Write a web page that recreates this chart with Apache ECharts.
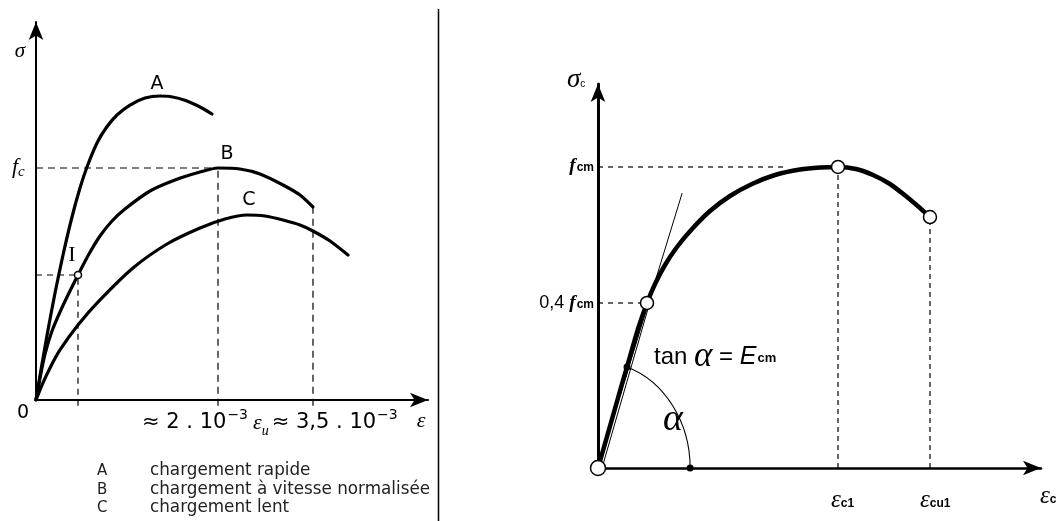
<!DOCTYPE html>
<html>
<head>
<meta charset="utf-8">
<script src="https://cdn.jsdelivr.net/npm/echarts@6/dist/echarts.min.js"></script>
<style>
  html, body { margin: 0; padding: 0; background: #fff; }
  #chart { width: 1056px; height: 521px; }
</style>
</head>
<body>
<div id="chart"></div>
<script>
// ---- Left diagram: σ–ε curves for three loading rates (schematic units 0–100) ----
const curveA = [[0,0],[1.53,9.52],[3.06,18.52],[4.85,28.31],[6.89,38.36],[9.18,48.41],[11.22,56.08],[13.01,61.64],[15.56,67.99],[17.86,71.96],[20.66,75.40],[23.98,78.04],[27.81,79.89],[31.63,80.42],[34.18,80.29],[38.01,79.29],[41.84,77.51],[44.90,75.66]];
const curveB = [[0,0],[1.02,5.82],[2.30,12.17],[4.08,18.25],[6.12,23.28],[8.16,27.78],[10.71,33.07],[13.52,38.62],[16.33,43.39],[19.39,47.35],[22.70,50.53],[29.08,55.29],[35.46,58.20],[41.84,60.32],[46.43,61.38],[52.04,61.11],[57.14,59.79],[63.01,56.88],[67.35,54.23],[70.66,51.06]];
const curveC = [[0,0],[1.53,3.97],[3.57,8.47],[6.12,13.23],[10.71,19.84],[16.33,26.46],[24.74,34.92],[33.42,41.27],[41.84,45.50],[48.21,47.88],[53.83,48.94],[58.42,48.68],[63.01,47.62],[67.35,46.30],[70.66,44.71],[75.0,42.06],[79.59,38.36]];
const pointI = curveB[6];      // point I on curve B
const peakB = curveB[14];      // (≈2·10⁻³ , fc)
const endB = curveB[19];       // εu
const curveNames = ['A', 'B', 'C'];
const legendTexts = ['chargement rapide', 'chargement à vitesse normalisée', 'chargement lent'];

// ---- Right diagram: σc–εc relation (schematic units 0–100) ----
const curveEC = [[0,0],[1.81,7.29],[3.61,14.58],[5.42,21.88],[6.55,26.30],[9.03,36.20],[11.06,42.97],[12.87,47.92],[15.12,52.86],[17.83,57.55],[21.22,62.24],[25.28,66.93],[29.80,70.83],[34.76,73.96],[39.95,76.30],[45.60,77.73],[50.11,78.26],[54.18,78.39],[58.24,77.86],[62.08,76.30],[65.91,73.96],[69.75,70.57],[72.69,67.71],[74.94,65.36]];
const pointSecant = curveEC[6];   // 0,4 fcm
const arcStart = curveEC[4];      // where the angle arc meets the initial branch
const peakEC = curveEC[17];       // (εc1 , fcm)
const endEC = curveEC[23];        // εcu1
const tangentEnd = [19.0, 71.6];
const arcEnd = [20.8, 0];
const fcmDashEnd = 41.8;

const SANS = '"Liberation Sans", Arial, sans-serif';
const WIDE = '"DejaVu Sans", Verdana, sans-serif';
const SERIF = '"Liberation Serif", "DejaVu Serif", serif';
const INK = '#000';

function guide(points, xi, dash, width) {
  return {
    type: 'line', xAxisIndex: xi, yAxisIndex: xi, data: points,
    showSymbol: false, silent: true, clip: false, z: 1,
    lineStyle: { color: INK, width: width, type: dash }
  };
}
function curve(points, xi, width) {
  return {
    type: 'line', xAxisIndex: xi, yAxisIndex: xi, data: points,
    smooth: 0.25, showSymbol: false, silent: true, z: 3,
    lineStyle: { color: INK, width: width, cap: 'round', join: 'round' }
  };
}
function dots(points, xi, size, fill) {
  return {
    type: 'scatter', xAxisIndex: xi, yAxisIndex: xi, data: points, symbolSize: size,
    z: 6, silent: true, clip: false,
    itemStyle: { color: fill, borderColor: INK, borderWidth: fill === INK ? 0 : 1.5, opacity: 1 }
  };
}

const chart = echarts.init(document.getElementById('chart'), null, { renderer: 'canvas' });

const axisCommon = (w, size) => ({
  type: 'value', min: 0, max: 100,
  axisLine: { show: true, onZero: false, symbol: ['none', 'arrow'], symbolSize: size, lineStyle: { color: INK, width: w } },
  axisTick: { show: false }, axisLabel: { show: false }, splitLine: { show: false }
});

const option = {
  backgroundColor: '#fff',
  animation: false,
  grid: [
    { left: 36, top: 22, width: 392, height: 378 },
    { left: 598, top: 84, width: 443, height: 384 }
  ],
  xAxis: [ Object.assign(axisCommon(2, [11, 18]), { gridIndex: 0 }), Object.assign(axisCommon(2.5, [11, 18]), { gridIndex: 1 }) ],
  yAxis: [ Object.assign(axisCommon(2, [11, 18]), { gridIndex: 0 }), Object.assign(axisCommon(3, [11, 18]), { gridIndex: 1 }) ],
  series: [
    // left guides
    guide([[0, peakB[1]], peakB], 0, [7, 5], 1.2),
    guide([[peakB[0], -1.5], peakB], 0, [7, 5], 1.2),
    guide([[endB[0], -1.5], endB], 0, [7, 5], 1.2),
    guide([[0, pointI[1]], pointI], 0, [6, 5], 1.2),
    guide([[pointI[0], -1.5], pointI], 0, [6, 5], 1.2),
    // left curves
    curve(curveA, 0, 3.2),
    curve(curveB, 0, 3.2),
    curve(curveC, 0, 3.2),
    dots([pointI], 0, 7, '#fff'),
    // right guides
    guide([[0, peakEC[1]], [fcmDashEnd, peakEC[1]]], 1, [5, 5], 1.2),
    guide([[peakEC[0], 0], peakEC], 1, [5, 4], 1.2),
    guide([[endEC[0], 0], endEC], 1, [5, 4], 1.2),
    guide([[0, pointSecant[1]], pointSecant], 1, [5, 5], 1.2),
    // tangent and secant
    guide([[0, 0], tangentEnd], 1, 'solid', 1),
    guide([[0.9, 0], [pointSecant[0] + 0.6, pointSecant[1]]], 1, 'solid', 1),
    // right curve
    curve(curveEC, 1, 4.5),
    // angle arc
    {
      type: 'custom', xAxisIndex: 1, yAxisIndex: 1, silent: true, z: 4, clip: false,
      data: [[arcStart[0], arcStart[1], arcEnd[0]]],
      renderItem: function (params, api) {
        const c = api.coord([0, 0]);
        const p1 = api.coord([api.value(0), api.value(1)]);
        const p2 = api.coord([api.value(2), 0]);
        const rx = p2[0] - c[0];
        const dx = p1[0] - c[0], dy = c[1] - p1[1];
        const ry = dy / Math.sqrt(1 - (dx / rx) * (dx / rx));
        return {
          type: 'path',
          shape: { pathData: 'M' + p1[0] + ' ' + p1[1] + ' A' + rx + ' ' + ry + ' 0 0 1 ' + p2[0] + ' ' + p2[1] },
          style: { fill: 'none', stroke: INK, lineWidth: 1.1 }
        };
      }
    },
    dots([arcStart, arcEnd], 1, 7, INK),
    dots([pointSecant, peakEC, endEC], 1, 13, '#fff'),
    dots([[0, 0]], 1, 15, '#fff')
  ],
  graphic: [
    // divider between the two diagrams
    { type: 'line', shape: { x1: 438.5, y1: 9, x2: 438.5, y2: 521 }, style: { stroke: INK, lineWidth: 1.5 }, silent: true },

    // left diagram texts
    { type: 'text', x: 20, y: 51, style: { text: 'σ', font: 'italic 21px ' + SERIF, fill: INK, align: 'center', verticalAlign: 'middle' } },
    { type: 'text', x: 12, y: 167, style: { text: '{f|f}{s|c}', fill: INK, verticalAlign: 'middle',
      rich: { f: { font: 'italic 22px ' + SERIF, lineHeight: 26, verticalAlign: 'middle' }, s: { font: 'italic 15px ' + SERIF, lineHeight: 26, verticalAlign: 'bottom' } } } },
    { type: 'text', x: 23, y: 413, style: { text: '0', font: '19px ' + WIDE, fill: INK, align: 'center', verticalAlign: 'middle' } },
    { type: 'text', x: 72, y: 255, style: { text: 'I', font: '22px ' + SERIF, fill: INK, align: 'center', verticalAlign: 'middle' } },
    { type: 'text', x: 157, y: 84, style: { text: curveNames[0], font: '19px ' + WIDE, fill: INK, align: 'center', verticalAlign: 'middle' } },
    { type: 'text', x: 227, y: 154, style: { text: curveNames[1], font: '19px ' + WIDE, fill: INK, align: 'center', verticalAlign: 'middle' } },
    { type: 'text', x: 249, y: 200, style: { text: curveNames[2], font: '19px ' + WIDE, fill: INK, align: 'center', verticalAlign: 'middle' } },
    { type: 'text', x: 142, y: 423, style: {
      text: '{n|≈ 2 . 10}{sp|−3}{e|ε}{sb|u}{n|≈ 3,5 . 10}{sp|−3}', fill: INK, verticalAlign: 'middle',
      rich: {
        n: { font: '21px ' + WIDE, lineHeight: 30, verticalAlign: 'middle' },
        sp: { font: '14px ' + WIDE, lineHeight: 30, verticalAlign: 'top', padding: [0, 5, 0, 1] },
        e: { font: 'italic 22px ' + SERIF, lineHeight: 30, verticalAlign: 'middle' },
        sb: { font: 'italic 14px ' + SERIF, lineHeight: 30, verticalAlign: 'bottom', padding: [0, 3, 0, 0] }
      } } },
    { type: 'text', x: 421, y: 421, style: { text: 'ε', font: 'italic 22px ' + SERIF, fill: INK, align: 'center', verticalAlign: 'middle' } },

    // legend of loading rates
    { type: 'text', x: 97, y: 471, style: { text: curveNames[0], font: '15px ' + WIDE, fill: '#222', verticalAlign: 'middle' } },
    { type: 'text', x: 97, y: 490, style: { text: curveNames[1], font: '15px ' + WIDE, fill: '#222', verticalAlign: 'middle' } },
    { type: 'text', x: 97, y: 508, style: { text: curveNames[2], font: '15px ' + WIDE, fill: '#222', verticalAlign: 'middle' } },
    { type: 'text', x: 150, y: 471, style: { text: legendTexts[0], font: '16.8px ' + WIDE, fill: '#222', verticalAlign: 'middle' } },
    { type: 'text', x: 150, y: 490, style: { text: legendTexts[1], font: '16.8px ' + WIDE, fill: '#222', verticalAlign: 'middle' } },
    { type: 'text', x: 150, y: 508, style: { text: legendTexts[2], font: '16.8px ' + WIDE, fill: '#222', verticalAlign: 'middle' } },

    // right diagram texts
    { type: 'text', x: 567, y: 80, style: { text: '{s|σ}{c|c}', fill: INK, verticalAlign: 'middle',
      rich: { s: { font: 'italic 27px ' + SERIF, lineHeight: 28, verticalAlign: 'middle' }, c: { font: '10px ' + SANS, lineHeight: 28, verticalAlign: 'bottom', padding: [0, 0, 5, 0] } } } },
    { type: 'text', x: 594, y: 166, style: { text: '{f|f}{c|cm}', fill: INK, align: 'right', verticalAlign: 'middle',
      rich: { f: { font: 'italic bold 19px ' + SERIF, lineHeight: 22, verticalAlign: 'middle' }, c: { font: 'bold 12px ' + SANS, lineHeight: 22, verticalAlign: 'bottom', padding: [0, 0, 3, 1] } } } },
    { type: 'text', x: 594, y: 303, style: { text: '{n|0,4 }{f|f}{c|cm}', fill: INK, align: 'right', verticalAlign: 'middle',
      rich: { n: { font: '18px ' + SANS, lineHeight: 22, verticalAlign: 'middle' }, f: { font: 'italic bold 19px ' + SERIF, lineHeight: 22, verticalAlign: 'middle' }, c: { font: 'bold 12px ' + SANS, lineHeight: 22, verticalAlign: 'bottom', padding: [0, 0, 3, 1] } } } },
    { type: 'text', x: 654, y: 357, style: { text: '{t|tan }{a|α}{t| = }{e|E}{c|cm}', fill: INK, verticalAlign: 'middle',
      rich: {
        t: { font: '24px ' + SANS, lineHeight: 30, verticalAlign: 'middle' },
        a: { font: 'italic 35px ' + SERIF, lineHeight: 30, verticalAlign: 'middle' },
        e: { font: 'italic 25px ' + SANS, lineHeight: 30, verticalAlign: 'middle' },
        c: { font: 'bold 13px ' + SANS, lineHeight: 30, verticalAlign: 'bottom', padding: [0, 0, 7, 1] }
      } } },
    { type: 'text', x: 673, y: 420, style: { text: 'α', font: 'italic 38px ' + SERIF, fill: INK, align: 'center', verticalAlign: 'middle' } },
    { type: 'text', x: 831, y: 500, style: { text: '{e|ε}{c|c1}', fill: INK, verticalAlign: 'middle',
      rich: { e: { font: 'italic 25px ' + SERIF, lineHeight: 26, verticalAlign: 'middle' }, c: { font: 'bold 12px ' + SANS, lineHeight: 26, verticalAlign: 'bottom', padding: [0, 0, 3, 0] } } } },
    { type: 'text', x: 920, y: 500, style: { text: '{e|ε}{c|cu1}', fill: INK, verticalAlign: 'middle',
      rich: { e: { font: 'italic 25px ' + SERIF, lineHeight: 26, verticalAlign: 'middle' }, c: { font: 'bold 12px ' + SANS, lineHeight: 26, verticalAlign: 'bottom', padding: [0, 0, 3, 0] } } } },
    { type: 'text', x: 1040, y: 496, style: { text: '{e|ε}{c|c}', fill: INK, verticalAlign: 'middle',
      rich: { e: { font: 'italic 25px ' + SERIF, lineHeight: 26, verticalAlign: 'middle' }, c: { font: 'bold 12px ' + SANS, lineHeight: 26, verticalAlign: 'bottom', padding: [0, 0, 3, 0] } } } }
  ]
};

chart.setOption(option);
</script>
</body>
</html>
